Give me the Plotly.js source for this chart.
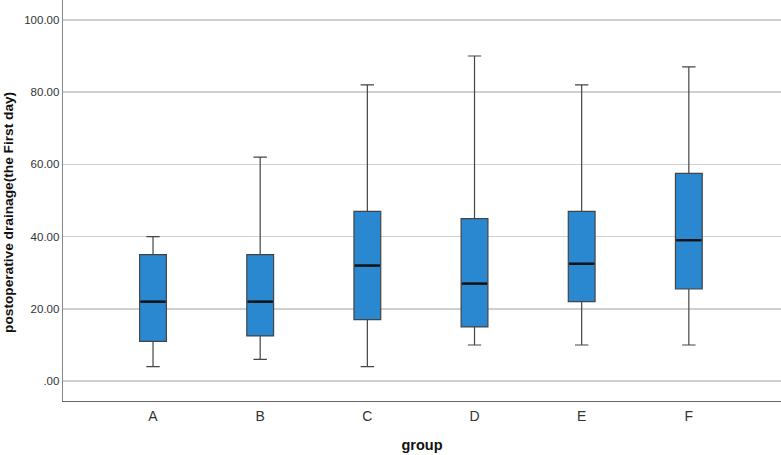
<!DOCTYPE html>
<html>
<head>
<meta charset="utf-8">
<script src="https://cdn.plot.ly/plotly-3.0.1.min.js"></script>
<style>html,body{margin:0;padding:0;background:#fff;}#chart{width:781px;height:455px;}</style>
</head>
<body>
<div id="chart"></div>
<script>
const groups = ["A", "B", "C", "D", "E", "F"];
const lowerWhisker = [4, 6, 4, 10, 10, 10];
const q1 = [11, 12.5, 17, 15, 22, 25.5];
const medians = [22, 22, 32, 27, 32.5, 39];
const q3 = [35, 35, 47, 45, 47, 57.5];
const upperWhisker = [40, 62, 82, 90, 82, 87];
const yTickVals = [0, 20, 40, 60, 80, 100];
const yTickText = [".00", "20.00", "40.00", "60.00", "80.00", "100.00"];
const yTitle = "postoperative drainage(the First day)";
const xTitle = "group";

const boxTrace = {
  type: "box",
  x: groups,
  q1: q1,
  median: medians,
  q3: q3,
  lowerfence: lowerWhisker,
  upperfence: upperWhisker,
  fillcolor: "#2a88d0",
  line: { color: "#444444", width: 1.2 },
  width: 0.25,
  whiskerwidth: 0.5,
  boxpoints: false,
  hoverinfo: "skip",
  showlegend: false
};

const medianTrace = {
  type: "scatter",
  mode: "markers",
  x: groups,
  y: medians,
  marker: { symbol: "line-ew", size: 18, color: "#000", line: { color: "#111111", width: 2.5 } },
  hoverinfo: "skip",
  showlegend: false
};

const layout = {
  width: 781,
  height: 455,
  margin: { l: 63, r: 0, t: 0, b: 54 },
  paper_bgcolor: "#ffffff",
  plot_bgcolor: "#ffffff",
  font: { family: "Liberation Sans, Arial, sans-serif", color: "#333" },
  xaxis: {
    type: "category",
    range: [-0.84, 5.86],
    showgrid: false,
    zeroline: false,
    showline: true,
    linecolor: "#666",
    linewidth: 1.3,
    ticks: "outside",
    ticklen: 2,
    tickcolor: "rgba(0,0,0,0)",
    tickfont: { size: 14, color: "#333" },
    title: { text: xTitle, font: { size: 14.5, color: "#111", weight: "bold" }, standoff: 16 }
  },
  yaxis: {
    range: [-5.5, 105.5],
    tickvals: yTickVals,
    ticktext: yTickText,
    showgrid: true,
    gridcolor: "#d0d0d0",
    gridwidth: 1.3,
    zeroline: false,
    showline: true,
    linecolor: "#888",
    linewidth: 1.3,
    ticks: "",
    tickfont: { size: 11.5, color: "#333" }
  },
  annotations: [{
    text: yTitle,
    xref: "paper", yref: "paper",
    x: 0, y: 0.469,
    xanchor: "center", yanchor: "middle",
    xshift: -54,
    textangle: -90,
    showarrow: false,
    font: { size: 13.7, color: "#111", weight: "bold" }
  }]
};

Plotly.newPlot("chart", [boxTrace, medianTrace], layout, { displayModeBar: false, staticPlot: true });
</script>
</body>
</html>
